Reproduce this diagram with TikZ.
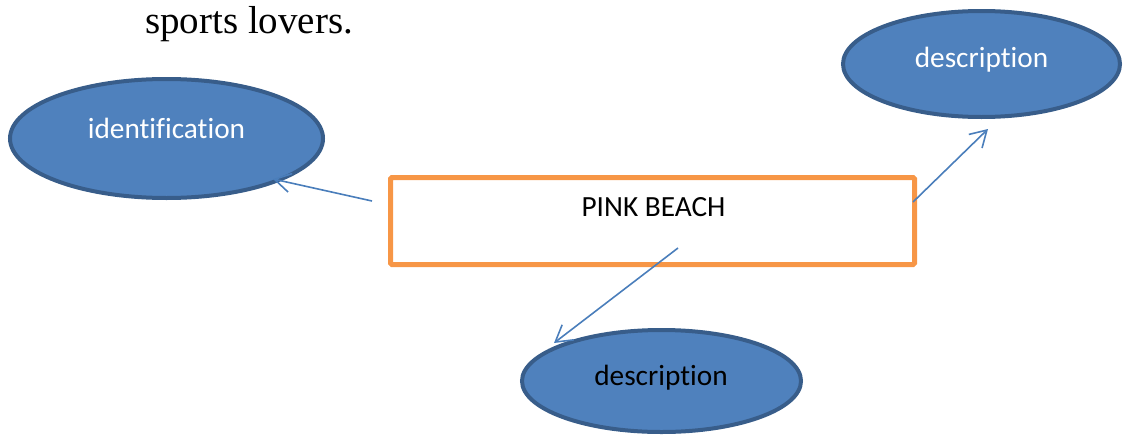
\documentclass[tikz,border=0pt]{standalone}
\usepackage{fontspec}
\setmainfont[Ligatures=NoCommon]{Carlito}
\newfontfamily\serifbody{Liberation Serif}
\usetikzlibrary{shapes.geometric,arrows.meta}
\definecolor{ovalfill}{HTML}{4F81BD}
\definecolor{ovalline}{HTML}{385D8A}
\definecolor{arrowblue}{HTML}{4A7EBB}
\definecolor{boxorange}{HTML}{F79646}
\tikzset{
  oval/.style={ellipse, draw=ovalline, fill=ovalfill, line width=4pt, inner sep=0pt},
  mainbox/.style={rectangle, draw=boxorange, line width=5pt, rounded corners=1.5pt, inner sep=0pt},
  lbl/.style={anchor=base, inner sep=0pt, font=\fontsize{29.3}{34}\selectfont},
  link/.style={draw=arrowblue, line width=1.6pt, -{Straight Barb[length=16pt,width=19pt,line width=1.6pt]}}
}
\begin{document}
\begin{tikzpicture}[x=1pt,y=-1pt]
\useasboundingbox (0,0) rectangle (1126,439);
% heading text
\node[anchor=base west, inner sep=0pt, font=\serifbody\fontsize{39}{44}\selectfont] (head) at (145,33) {sports lovers.};
% shapes
\node[oval, minimum width=313pt, minimum height=119pt] (ident) at (166.5,138.5) {};
\node[oval, minimum width=277pt, minimum height=106pt] (desc1) at (981.5,64) {};
\node[oval, minimum width=279pt, minimum height=102pt] (desc2) at (661.5,381) {};
\node[mainbox, minimum width=524pt, minimum height=87pt] (beach) at (652.5,221) {};
% labels
\node[lbl, text=white] (identtxt) at (166.5,138) {identification};
\node[lbl, text=white] (desc1txt) at (981.5,67) {description};
\node[lbl, text=black] (desc2txt) at (661,385) {description};
\node[lbl, text=black] (beachtxt) at (653.5,216) {PINK BEACH};
% connector ends
\coordinate (s1) at (372,201);
\coordinate (e1) at (273,179);
\coordinate (s2) at (913,202);
\coordinate (e2) at (988,129);
\coordinate (s3) at (678,248);
\coordinate (e3) at (554,343);
\draw[link] (s1) -- (e1);
\draw[link] (s2) -- (e2);
\draw[link] (s3) -- (e3);
\end{tikzpicture}
\end{document}
